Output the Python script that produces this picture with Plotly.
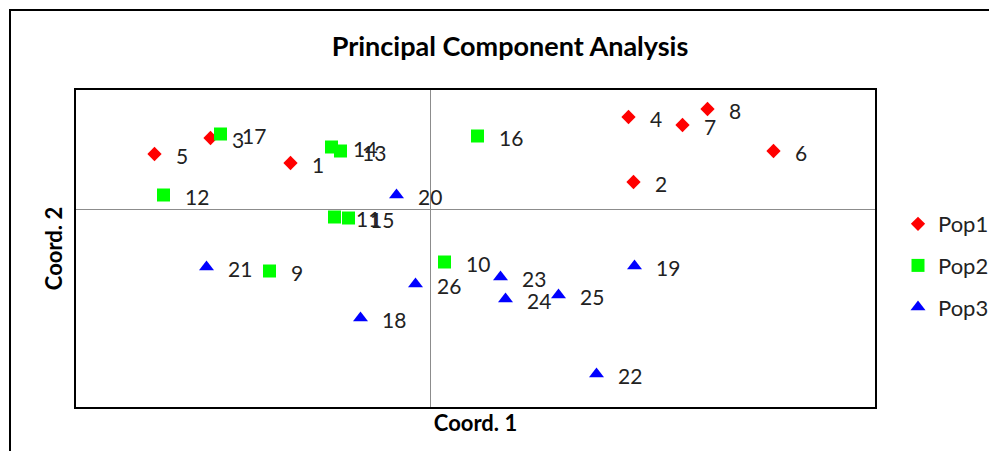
import plotly.graph_objects as go

# ---------------- data ----------------
pop1_ids = ["1", "2", "3", "4", "5", "6", "7", "8"]
pop1_x = [-1.40, 2.03, -2.20, 1.98, -2.76, 3.43, 2.52, 2.77]
pop1_y = [0.46, 0.27, 0.71, 0.92, 0.55, 0.58, 0.84, 1.00]

pop2_ids = ["9", "10", "11", "12", "13", "14", "15", "16", "17"]
pop2_x = [-1.61, 0.14, -0.96, -2.67, -0.90, -0.99, -0.82, 0.47, -2.10]
pop2_y = [-0.62, -0.53, -0.08, 0.14, 0.58, 0.62, -0.09, 0.73, 0.75]

pop3_ids = ["18", "19", "20", "21", "22", "23", "24", "25", "26"]
pop3_x = [-0.70, 2.04, -0.34, -2.24, 1.66, 0.70, 0.75, 1.28, -0.15]
pop3_y = [-1.09, -0.57, 0.14, -0.58, -1.65, -0.68, -0.90, -0.86, -0.75]

series_names = ["Pop1", "Pop2", "Pop3"]

# ---------------- layout constants ----------------
# the page body adds an 8px margin on every side
OFF = 8
W, H = 997 - 2 * OFF, 459 - 2 * OFF
L, R, T, B = 76 - OFF, 875 - OFF, 90 - OFF, 407 - OFF
FONT = "Lato, 'Open Sans', sans-serif"

def px_to_paper_x(px):
    return (px - OFF - L) / (R - L)

def px_to_paper_y(py):
    return (B - (py - OFF)) / (B - T)

series = [
    (series_names[0], pop1_x, pop1_y, pop1_ids, "diamond", "#ff0000", 11),
    (series_names[1], pop2_x, pop2_y, pop2_ids, "square", "#00ff00", 13),
    (series_names[2], pop3_x, pop3_y, pop3_ids, "triangle-up", "#0000ff", 13),
]

fig = go.Figure()
annotations = []
for name, xs, ys, ids, sym, col, sz in series:
    fig.add_trace(go.Scatter(
        x=xs, y=ys, mode="markers", name=name, legendgroup=name,
        marker=dict(symbol=sym, color=col, size=sz, line=dict(width=0)),
        hoverinfo="text", text=ids,
    ))
    for xv, yv, lab in zip(xs, ys, ids):
        annotations.append(dict(
            x=xv, y=yv, xref="x", yref="y", text=lab, showarrow=False,
            xanchor="left", yanchor="middle", xshift=19, yshift=-1,
            font=dict(family=FONT, size=21, color="#222222"),
        ))

fig.update_layout(
    width=W, height=H,
    margin=dict(l=L, r=W - R, t=T, b=H - B, pad=0, autoexpand=False),
    paper_bgcolor="white", plot_bgcolor="white",
    title=dict(text="<b>Principal Component Analysis</b>",
               x=(510 - OFF) / W, xref="container", xanchor="center",
               y=1 - (47 - OFF) / H, yref="container", yanchor="middle",
               font=dict(family=FONT, size=27, color="#000000")),
    xaxis=dict(range=[-3.545, 4.445], showgrid=False, zeroline=True,
               zerolinecolor="#8c8c8c", zerolinewidth=1,
               showticklabels=False, ticks="",
               showline=True, linecolor="#000000", linewidth=2, mirror=True,
               title=dict(text="<b>Coord. 1</b>", standoff=8,
                          font=dict(family=FONT, size=22, color="#000000"))),
    yaxis=dict(range=[-1.98, 1.19], showgrid=False, zeroline=True,
               zerolinecolor="#8c8c8c", zerolinewidth=1,
               showticklabels=False, ticks="",
               showline=True,
               linecolor="#000000", linewidth=2, mirror=True,
               title=dict(text="<b>Coord. 2</b>", standoff=5,
                          font=dict(family=FONT, size=22, color="#000000"))),
    legend=dict(x=px_to_paper_x(898), xanchor="left",
                y=px_to_paper_y(203), yanchor="top",
                font=dict(family=FONT, size=22, color="#222222"),
                entrywidth=50, entrywidthmode="pixels",
                tracegroupgap=10, bgcolor="rgba(0,0,0,0)"),
    annotations=annotations,
    showlegend=True,
)

# outer frame of the picture
fig.add_shape(type="rect", xref="paper", yref="paper",
              x0=px_to_paper_x(10), x1=px_to_paper_x(1010),
              y0=px_to_paper_y(475), y1=px_to_paper_y(10),
              line=dict(color="#000000", width=2), fillcolor="rgba(0,0,0,0)",
              layer="below")

fig.write_html("out.html")
